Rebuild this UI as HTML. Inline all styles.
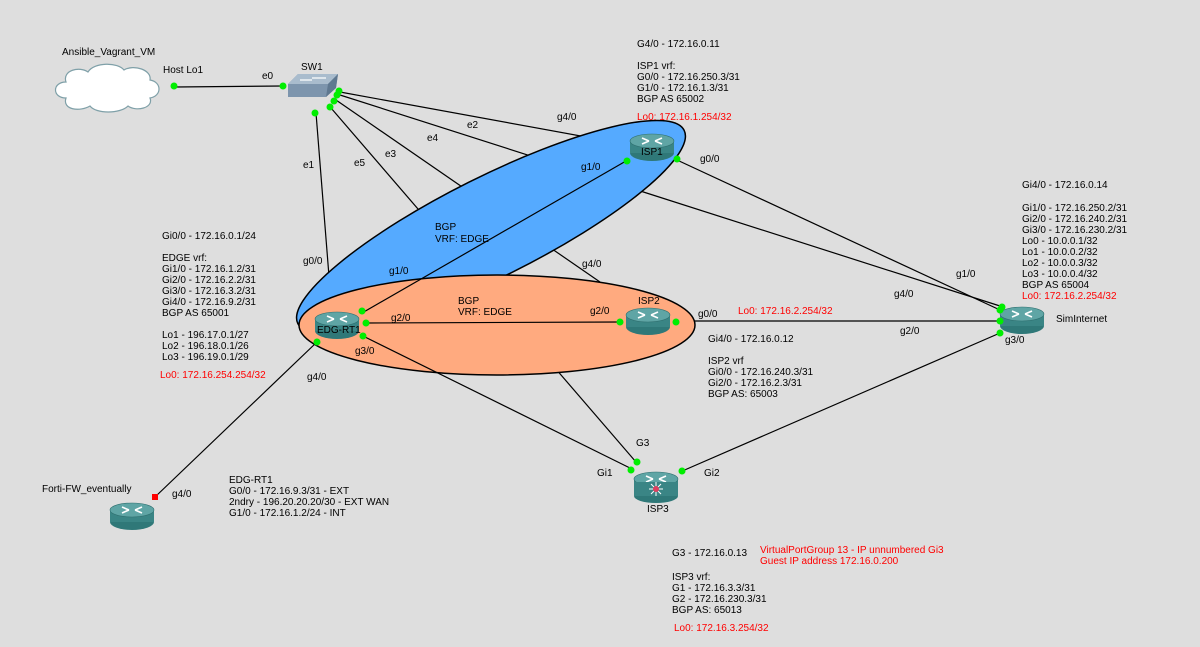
<!DOCTYPE html>
<html><head><meta charset="utf-8"><style>
html,body{margin:0;padding:0;background:#dedede;}
svg{display:block}
text{font-family:"Liberation Sans",sans-serif;font-size:10px;fill:#000;}
.r{fill:#ff0000}
</style></head><body>
<svg width="1200" height="647" viewBox="0 0 1200 647" xmlns="http://www.w3.org/2000/svg">
<defs>
<g id="rt">
<ellipse cx="0" cy="6" rx="22" ry="8" fill="#2f7878"/>
<rect x="-22" y="-6" width="44" height="12" fill="#3a8585"/>
<ellipse cx="0" cy="-6" rx="22" ry="7" fill="#5fa5a5" stroke="#2f7070" stroke-width="0.6"/>
<path d="M-10,-9 L-3,-6 M10,-9 L3,-6 M-10,-3 L-3,-6 M10,-3 L3,-6" stroke="#fff" stroke-width="1.6"/>
</g>
</defs>
<g stroke="#000" stroke-width="1.2" fill="none">
<line x1="175" y1="87" x2="282" y2="86"/>
<line x1="316" y1="113" x2="332" y2="314"/>
<line x1="340" y1="92" x2="630" y2="145"/>
<line x1="340" y1="95" x2="1000" y2="306"/>
<line x1="336" y1="100" x2="600" y2="282"/>
<line x1="331" y1="108" x2="636" y2="462"/>
<line x1="677" y1="160" x2="1000" y2="310"/>
<line x1="680" y1="321" x2="1000" y2="321"/>
<line x1="680" y1="472" x2="1000" y2="333"/>
<line x1="317" y1="342" x2="155" y2="497"/>
</g>
<ellipse cx="491" cy="227" rx="216" ry="50" transform="rotate(-26.6 491 227)" fill="#55aaff" stroke="#000" stroke-width="1.5"/>
<ellipse cx="497" cy="325" rx="198" ry="50" fill="#ffaa7f" stroke="#000" stroke-width="1.5"/>
<g stroke="#000" stroke-width="1.2">
<line x1="362" y1="313" x2="626" y2="161"/>
<line x1="366" y1="323" x2="620" y2="322"/>
<line x1="363" y1="336" x2="634" y2="470"/>
</g>
<path d="M66,98 C52,98 52,82 66,82 C62,70 80,66 88,72 C94,62 118,62 124,70 C134,64 152,70 150,80 C162,82 162,96 150,98 C154,108 136,112 128,106 C120,114 96,114 90,106 C80,112 62,110 66,98 Z" fill="#fff" stroke="#7fa0a8" stroke-width="1.2"/>
<path d="M288,84 L298,74 L338,74 L336,88 L326,97 L288,97 Z" fill="#7d95ad"/>
<path d="M288,84 L298,74 L338,74 L328,84 Z" fill="#a9bccd"/>
<path d="M328,84 L338,74 L336,88 L326,97 Z" fill="#5f7890"/>
<path d="M300,80 L312,80 M312,78 L326,78" stroke="#fff" stroke-width="1.2"/>
<use href="#rt" x="337" y="325"/>
<use href="#rt" x="652" y="147"/>
<use href="#rt" x="648" y="321"/>
<use href="#rt" x="1022" y="320"/>
<use href="#rt" x="132" y="516"/>
<use href="#rt" x="656" y="485"/>
<ellipse cx="656" cy="496" rx="22" ry="7" fill="#2f7878"/>
<rect x="634" y="482" width="44" height="14" fill="#3a8585"/>
<g stroke="#fff" stroke-width="1"><path d="M656,482 V496 M649,489 H663 M651,484 L661,494 M661,484 L651,494"/></g>
<circle cx="656" cy="489" r="3" fill="#e04060"/>
<g fill="#00ee00">
<circle cx="174" cy="86" r="3.5"/><circle cx="283" cy="86" r="3.5"/>
<circle cx="339" cy="91" r="3.5"/><circle cx="337" cy="95" r="3.5"/><circle cx="334" cy="101" r="3.5"/><circle cx="330" cy="107" r="3.5"/><circle cx="315" cy="113" r="3.5"/>
<circle cx="627" cy="161" r="3.5"/><circle cx="677" cy="159" r="3.5"/>
<circle cx="362" cy="311" r="3.5"/><circle cx="366" cy="323" r="3.5"/><circle cx="363" cy="336" r="3.5"/><circle cx="317" cy="342" r="3.5"/>
<circle cx="620" cy="322" r="3.5"/><circle cx="676" cy="322" r="3.5"/>
<circle cx="1000" cy="310" r="3.5"/><circle cx="1000" cy="321" r="3.5"/><circle cx="1000" cy="333" r="3.5"/><circle cx="1002" cy="307" r="3.5"/>
<circle cx="637" cy="462" r="3.5"/><circle cx="631" cy="470" r="3.5"/><circle cx="682" cy="471" r="3.5"/>
</g>
<rect x="152" y="494" width="6" height="6" fill="#ff0000"/>
<text x="62" y="55">Ansible_Vagrant_VM</text>
<text x="163" y="73">Host Lo1</text>
<text x="262" y="79">e0</text>
<text x="301" y="70">SW1</text>
<text x="303" y="168">e1</text><text x="354" y="166">e5</text><text x="385" y="157">e3</text><text x="427" y="141">e4</text><text x="467" y="128">e2</text>
<text x="557" y="120">g4/0</text><text x="581" y="170">g1/0</text><text x="700" y="162">g0/0</text>
<text x="641" y="155" font-size="9">ISP1</text>
<text x="435" y="230">BGP</text><text x="435" y="242">VRF: EDGE</text>
<text x="303" y="264">g0/0</text><text x="389" y="274">g1/0</text><text x="582" y="267">g4/0</text>
<text x="458" y="304">BGP</text><text x="458" y="315">VRF: EDGE</text>
<text x="391" y="321">g2/0</text><text x="590" y="314">g2/0</text><text x="638" y="304">ISP2</text><text x="698" y="317">g0/0</text>
<text x="317" y="333" font-size="9">EDG-RT1</text>
<text x="355" y="354">g3/0</text><text x="307" y="380">g4/0</text>
<text x="956" y="277">g1/0</text><text x="894" y="297">g4/0</text><text x="900" y="334">g2/0</text>
<text x="1056" y="322">SimInternet</text><text x="1005" y="343">g3/0</text>
<text x="637" y="47">G4/0 - 172.16.0.11</text>
<text x="637" y="69">ISP1 vrf:</text><text x="637" y="80">G0/0 - 172.16.250.3/31</text><text x="637" y="91">G1/0 - 172.16.1.3/31</text><text x="637" y="102">BGP AS 65002</text>
<text x="637" y="120" class="r">Lo0: 172.16.1.254/32</text>
<text x="1022" y="188">Gi4/0 - 172.16.0.14</text>
<text x="1022" y="211">Gi1/0 - 172.16.250.2/31</text><text x="1022" y="222">Gi2/0 - 172.16.240.2/31</text><text x="1022" y="233">Gi3/0 - 172.16.230.2/31</text>
<text x="1022" y="244">Lo0 - 10.0.0.1/32</text><text x="1022" y="255">Lo1 - 10.0.0.2/32</text><text x="1022" y="266">Lo2 - 10.0.0.3/32</text><text x="1022" y="277">Lo3 - 10.0.0.4/32</text>
<text x="1022" y="288">BGP AS 65004</text><text x="1022" y="299" class="r">Lo0: 172.16.2.254/32</text>
<text x="162" y="239">Gi0/0 - 172.16.0.1/24</text>
<text x="162" y="261">EDGE vrf:</text><text x="162" y="272">Gi1/0 - 172.16.1.2/31</text><text x="162" y="283">Gi2/0 - 172.16.2.2/31</text><text x="162" y="294">Gi3/0 - 172.16.3.2/31</text><text x="162" y="305">Gi4/0 - 172.16.9.2/31</text><text x="162" y="316">BGP AS 65001</text>
<text x="162" y="338">Lo1 - 196.17.0.1/27</text><text x="162" y="349">Lo2 - 196.18.0.1/26</text><text x="162" y="360">Lo3 - 196.19.0.1/29</text>
<text x="160" y="378" class="r">Lo0: 172.16.254.254/32</text>
<text x="738" y="314" class="r">Lo0: 172.16.2.254/32</text>
<text x="708" y="342">Gi4/0 - 172.16.0.12</text>
<text x="708" y="364">ISP2 vrf</text><text x="708" y="375">Gi0/0 - 172.16.240.3/31</text><text x="708" y="386">Gi2/0 - 172.16.2.3/31</text><text x="708" y="397">BGP AS: 65003</text>
<text x="42" y="492">Forti-FW_eventually</text><text x="172" y="497">g4/0</text>
<text x="229" y="483">EDG-RT1</text><text x="229" y="494">G0/0 - 172.16.9.3/31 - EXT</text><text x="229" y="505">2ndry - 196.20.20.20/30 - EXT WAN</text><text x="229" y="516">G1/0 - 172.16.1.2/24 - INT</text>
<text x="636" y="446">G3</text><text x="597" y="476">Gi1</text><text x="704" y="476">Gi2</text><text x="647" y="512">ISP3</text>
<text x="672" y="556">G3 - 172.16.0.13</text>
<text x="760" y="553" class="r">VirtualPortGroup 13 - IP unnumbered Gi3</text><text x="760" y="564" class="r">Guest IP address 172.16.0.200</text>
<text x="672" y="580">ISP3 vrf:</text><text x="672" y="591">G1 - 172.16.3.3/31</text><text x="672" y="602">G2 - 172.16.230.3/31</text><text x="672" y="613">BGP AS: 65013</text>
<text x="674" y="631" class="r">Lo0: 172.16.3.254/32</text>
</svg>
</body></html>
